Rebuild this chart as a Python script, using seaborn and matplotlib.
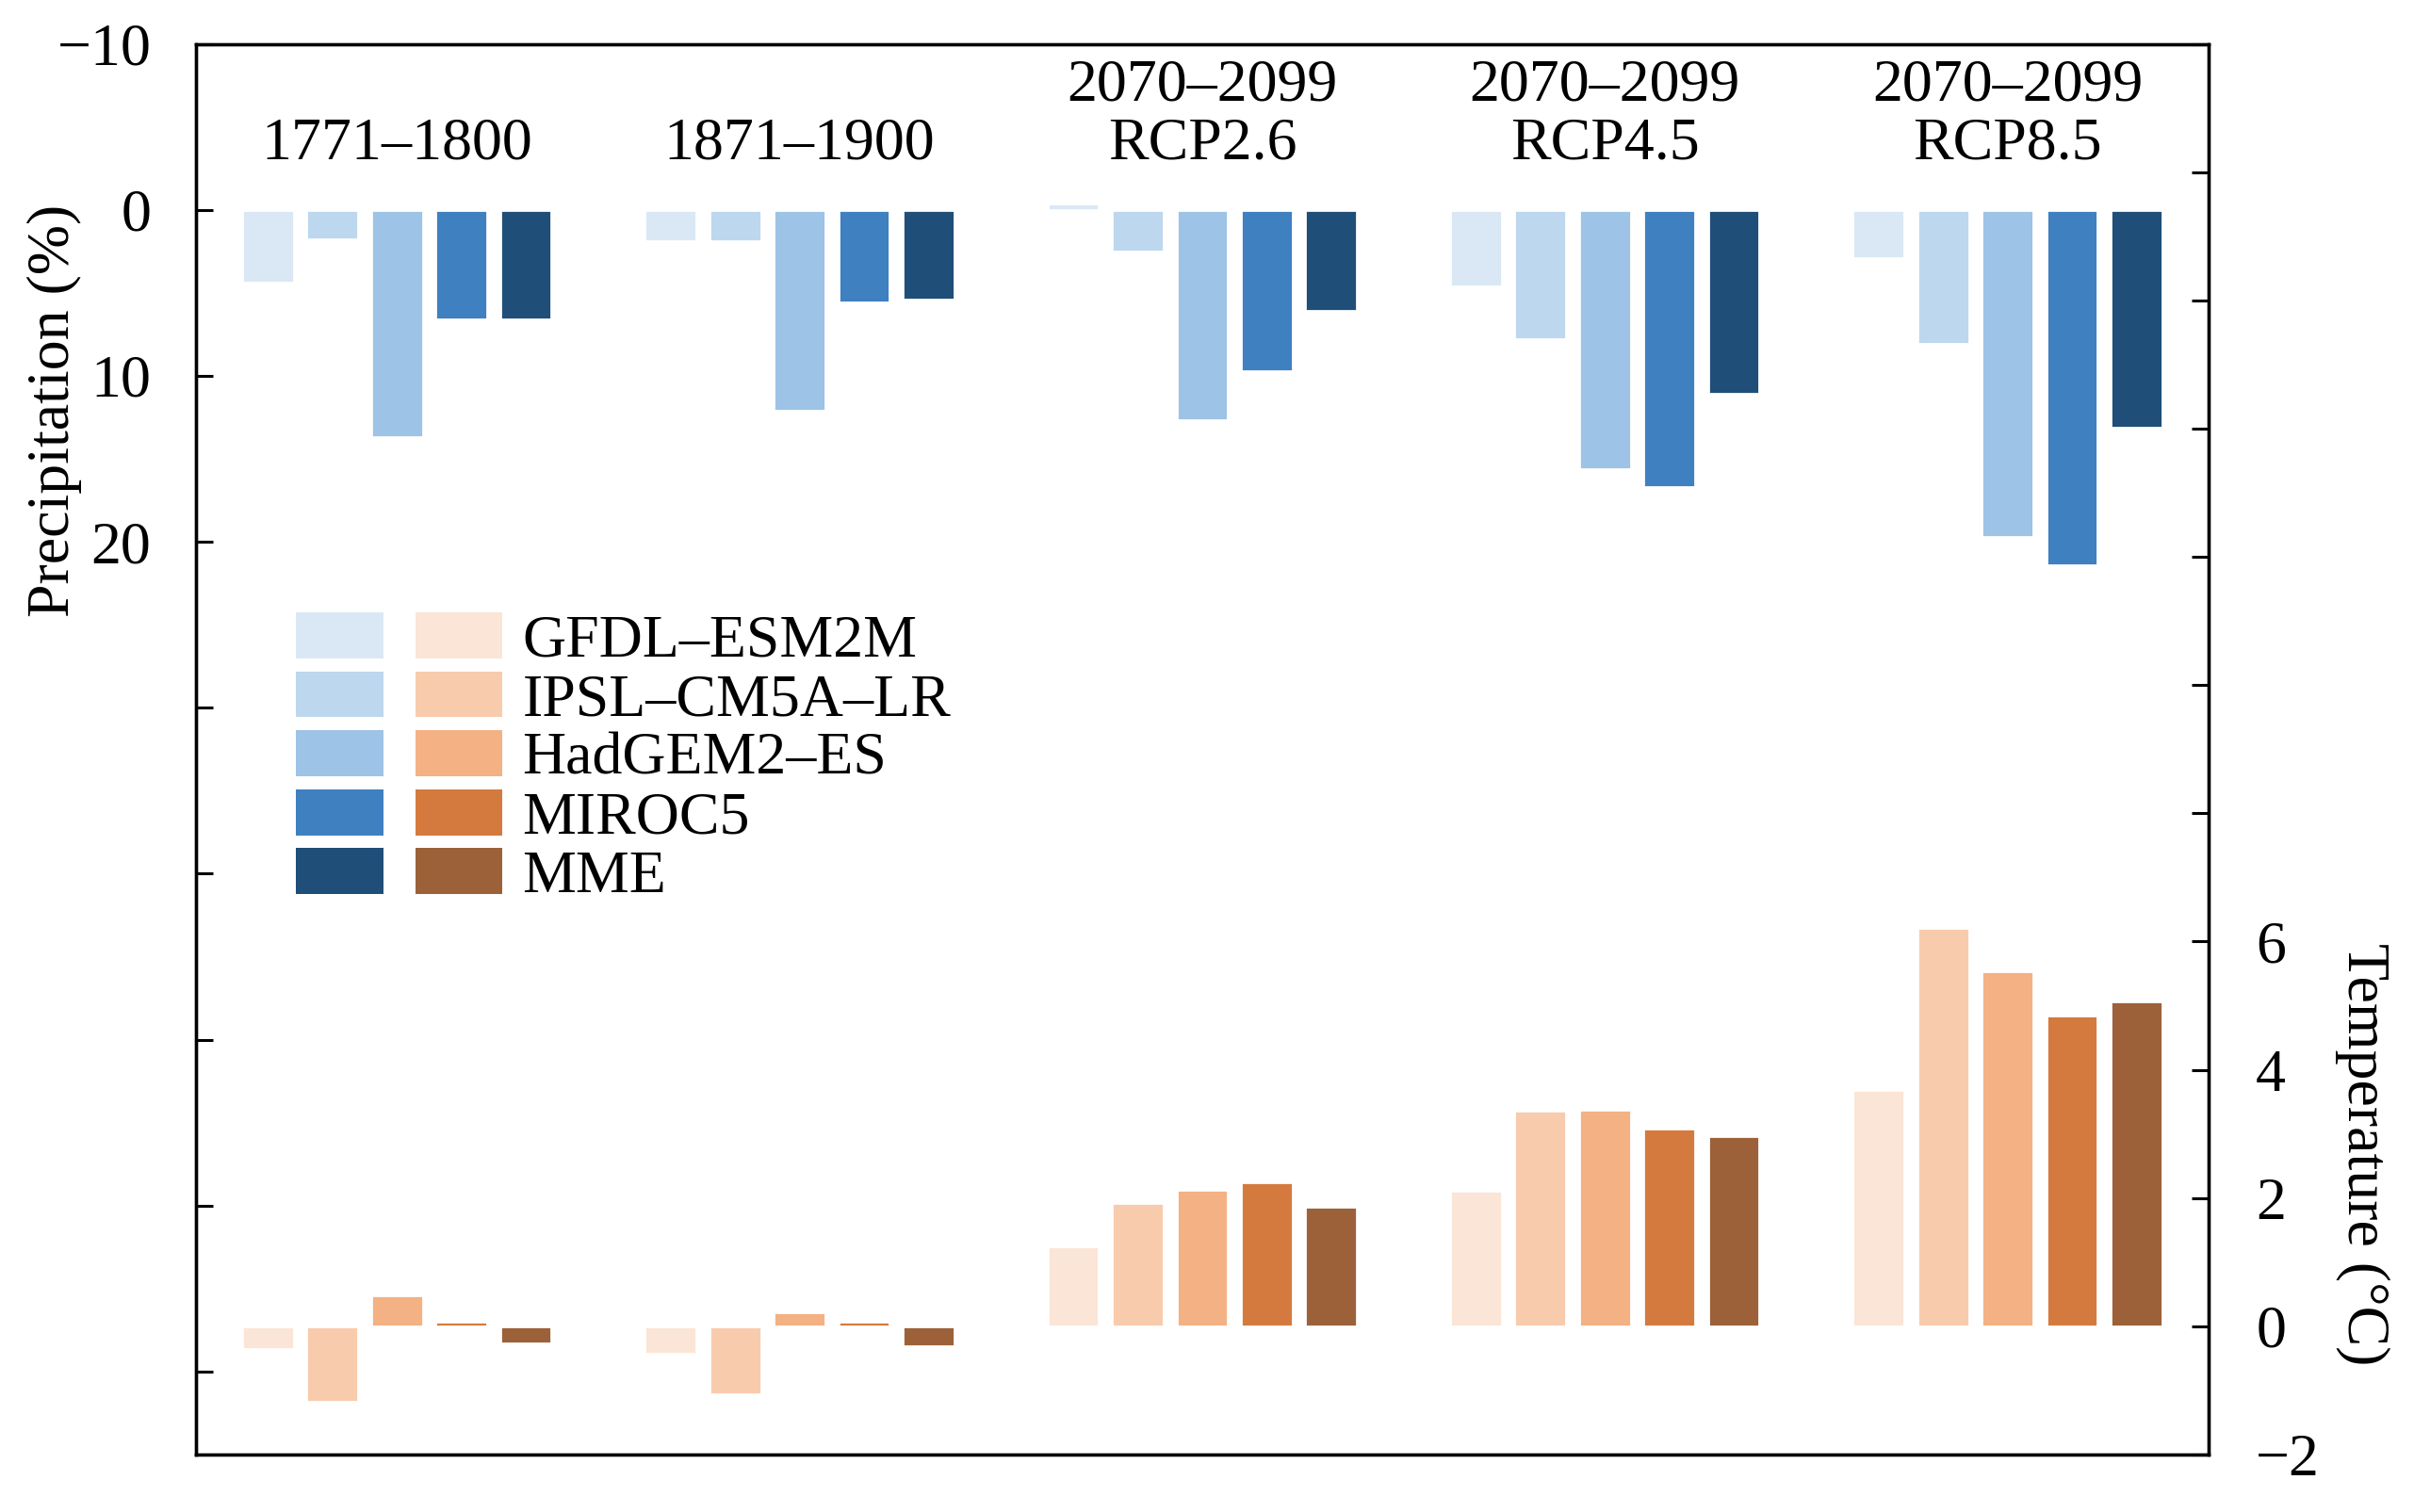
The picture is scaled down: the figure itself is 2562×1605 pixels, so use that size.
import numpy as np
import pandas as pd
import matplotlib
matplotlib.use("Agg")
import matplotlib.pyplot as plt
import seaborn as sns
from matplotlib.patches import Patch
from matplotlib.ticker import FixedLocator, FuncFormatter

# Dati
periods = ["1771–1800", "1871–1900", "2070–2099\nRCP2.6", "2070–2099\nRCP4.5", "2070–2099\nRCP8.5"]
models = ["GFDL–ESM2M", "IPSL–CM5A–LR", "HadGEM2–ES", "MIROC5", "MME"]

# Precipitazione (%) per modello, un valore per periodo
precip_gfdl = [4.4, 1.9, -0.4, 4.6, 2.9]
precip_ipsl = [1.8, 1.9, 2.5, 7.8, 8.1]
precip_hadgem = [13.7, 12.1, 12.7, 15.6, 19.7]
precip_miroc = [6.6, 5.6, 9.7, 16.7, 21.4]
precip_mme = [6.6, 5.4, 6.1, 11.1, 13.1]

# Temperatura (°C) per modello
temp_gfdl = [-0.36, -0.43, 1.25, 2.11, 3.69]
temp_ipsl = [-1.18, -1.06, 1.92, 3.36, 6.21]
temp_hadgem = [0.48, 0.22, 2.13, 3.38, 5.54]
temp_miroc = [0.07, 0.07, 2.25, 3.09, 4.84]
temp_mme = [-0.26, -0.31, 1.87, 2.97, 5.06]

blues = ["#dae8f5", "#bdd7ee", "#9dc3e6", "#3f80c0", "#1f4e79"]
oranges = ["#fbe5d6", "#f8cbad", "#f4b183", "#d47a3e", "#9c6139"]


def long_table(series):
    rows = []
    for model, values in zip(models, series):
        for period, v in zip(periods, values):
            rows.append({"period": period, "model": model, "value": v})
    return pd.DataFrame(rows)


df_p = long_table([precip_gfdl, precip_ipsl, precip_hadgem, precip_miroc, precip_mme])
df_t = long_table([temp_gfdl, temp_ipsl, temp_hadgem, temp_miroc, temp_mme])

sns.set_style("white")
plt.rcParams["font.family"] = ["Liberation Serif", "DejaVu Serif"]
plt.rcParams.update({"text.color": "black", "axes.labelcolor": "black",
                     "xtick.color": "black", "ytick.color": "black"})
FS = 23

fig = plt.figure(figsize=(12.81, 8.025), dpi=200)
ax = fig.add_axes([0.081, 0.038, 0.834, 0.933])
ax2 = ax.twinx()

sns.barplot(data=df_p, x="period", y="value", hue="model", order=periods,
            hue_order=models, palette=blues, saturation=1, gap=0.2,
            errorbar=None, legend=False, ax=ax)
sns.barplot(data=df_t, x="period", y="value", hue="model", order=periods,
            hue_order=models, palette=oranges, saturation=1, gap=0.2,
            errorbar=None, legend=False, ax=ax2)

ax.set_xlim(-0.5, 4.5)
ax2.set_xlim(-0.5, 4.5)
ax.set_ylim(75, -10)
ax2.set_ylim(-2, 20)

# asse sinistro: precipitazione
ax.yaxis.set_major_locator(FixedLocator(np.arange(-10, 71, 10)))
ax.yaxis.set_major_formatter(FuncFormatter(lambda v, p: f"{v:.0f}".replace("-", "\u2212") if v <= 20 else ""))
ax.tick_params(axis="y", direction="in", length=6.5, width=1.1, labelsize=FS, pad=17, left=True,
               color="black", labelcolor="black")
ax.tick_params(axis="x", bottom=False, labelbottom=False)
ax.set_xlabel("")
ax.set_ylabel("Precipitation (%)", fontsize=FS, va="center", color="black")
ax.yaxis.set_label_coords(-0.070, 0.74)

# asse destro: temperatura
ax2.yaxis.set_major_locator(FixedLocator(np.arange(-2, 21, 2)))
ax2.yaxis.set_major_formatter(FuncFormatter(lambda v, p: f"{v:.0f}".replace("-", "\u2212") if v <= 6 else ""))
ax2.tick_params(axis="y", direction="in", length=6.5, width=1.1, labelsize=FS, pad=18, right=True,
                color="black", labelcolor="black")
ax2.tick_params(axis="x", bottom=False, labelbottom=False)
ax2.set_xlabel("")
ax2.set_ylabel("Temperature (°C)", fontsize=FS, rotation=270, va="center", color="black")
ax2.yaxis.set_label_coords(1.076, 0.213)

for a in (ax, ax2):
    for s in a.spines.values():
        s.set_linewidth(1.2)
        s.set_color("black")

# etichette dei periodi sopra le barre
for i, lab in enumerate(periods):
    ax.text(i, -2.3, lab, ha="center", va="bottom", fontsize=FS, linespacing=1.08, color="black")

# legenda: colonna blu senza testo + colonna arancio con i nomi
handles = [Patch(facecolor=c, edgecolor="none") for c in blues] + \
          [Patch(facecolor=c, edgecolor="none") for c in oranges]
labels = [""] * 5 + models
ax2.legend(handles, labels, ncol=2, frameon=False, fontsize=FS,
           loc="upper left", bbox_to_anchor=(0.050, 0.597), borderaxespad=0,
           borderpad=0, handlelength=1.45, handleheight=0.8,
           handletextpad=0.33, columnspacing=0.2, labelspacing=0.03,
           labelcolor="black")

fig.savefig("out.png", dpi=200)
